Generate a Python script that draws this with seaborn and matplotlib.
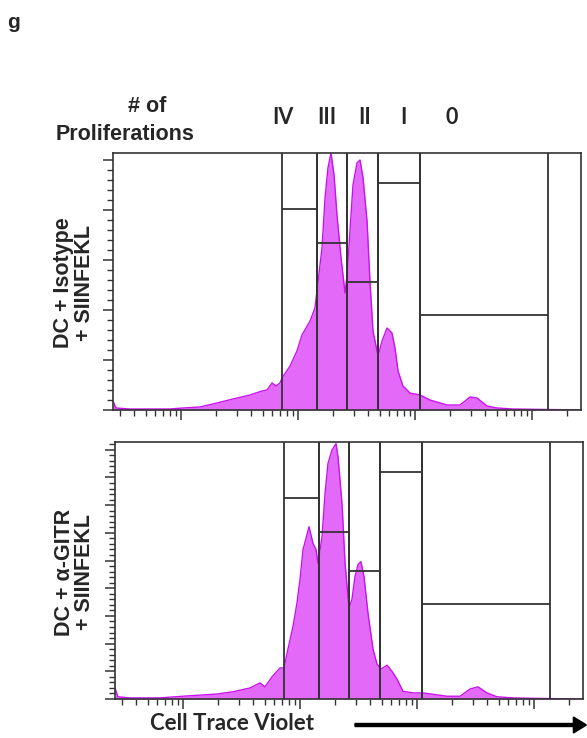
import numpy as np
import matplotlib
matplotlib.use("Agg")
import matplotlib.pyplot as plt
import seaborn as sns
from matplotlib.ticker import MultipleLocator, LogLocator, NullFormatter

sns.set_style("ticks")
plt.rcParams['font.family'] = ['Liberation Sans', 'DejaVu Sans']

# ---------------- data ----------------
# Panel 1: DC + Isotype + SIINFEKL  (log10 Cell Trace Violet, counts)
iso_log = [1.419, 1.444, 1.564, 1.735, 1.906, 2.017, 2.162, 2.308, 2.444, 2.590,
           2.692, 2.735, 2.778, 2.812, 2.846, 2.863, 2.932, 2.991, 3.034, 3.103,
           3.145, 3.162, 3.205, 3.231, 3.256, 3.282, 3.308, 3.333, 3.368, 3.402,
           3.419, 3.444, 3.470, 3.504, 3.530, 3.556, 3.590, 3.615, 3.641, 3.684,
           3.718, 3.761, 3.803, 3.829, 3.855, 3.897, 3.957, 4.043, 4.128, 4.274,
           4.385, 4.470, 4.530, 4.615, 4.701, 4.838, 5.128, 5.419]
iso_cnt = [18, 4, 2, 2, 2, 4, 6, 14, 22, 30,
           38, 40, 54, 48, 54, 64, 88, 118, 150, 178,
           204, 238, 324, 424, 484, 514, 470, 390, 304, 234,
           270, 358, 450, 494, 500, 464, 378, 258, 158, 108,
           138, 164, 154, 124, 78, 48, 34, 30, 20, 10,
           10, 26, 24, 8, 4, 2, 1, 0]

# Panel 2: DC + a-GITR + SIINFEKL
gitr_log = [1.419, 1.444, 1.547, 1.803, 2.000, 2.291, 2.427, 2.573, 2.658, 2.701,
            2.761, 2.829, 2.863, 2.897, 2.940, 2.974, 3.000, 3.026, 3.060, 3.077,
            3.111, 3.137, 3.154, 3.188, 3.214, 3.239, 3.274, 3.308, 3.325, 3.359,
            3.385, 3.419, 3.444, 3.470, 3.496, 3.521, 3.547, 3.581, 3.624, 3.658,
            3.692, 3.744, 3.786, 3.829, 3.880, 3.966, 4.051, 4.256, 4.368, 4.453,
            4.521, 4.598, 4.684, 4.821, 5.051, 5.419]
gitr_cnt = [20, 4, 2, 2, 5, 9, 13, 20, 29, 22,
            40, 56, 56, 90, 131, 173, 216, 270, 297, 311,
            281, 270, 245, 293, 371, 425, 450, 461, 437, 353,
            245, 164, 180, 221, 243, 248, 221, 155, 90, 63,
            54, 61, 50, 36, 14, 11, 11, 5, 5, 18,
            22, 11, 4, 2, 1, 0]

# Gates (log10 bounds) and gate levels (fraction of y range)
gate_names = ["IV", "III", "II", "I", "0"]
gate_lo = [2.863, 3.162, 3.419, 3.684, 4.043]
gate_hi = [3.162, 3.419, 3.684, 4.043, 5.137]
gate_level = [0.782, 0.650, 0.500, 0.885, 0.370]

panel_labels = [("DC + Isotype", "+ SIINFEKL"), ("DC + \u03b1-GITR", "+ SIINFEKL")]
panel_ymax = [514, 464]
panel_major = [100, 50]
panel_minor = [20, 10]

x_lo, x_hi = 10 ** 1.419, 2 ** 18

# ---------------- figure ----------------
W, H = 587, 738
fig = plt.figure(figsize=(W / 100, H / 100), dpi=100)

def fx(px):
    return px / W

def fy(py):
    return 1 - py / H

axes_px = [(113, 153, 581, 410), (115, 442, 583, 699)]
fill_c = '#E36AF8'
edge_c = '#C812EE'
dark = '#333333'

data = [(iso_log, iso_cnt), (gitr_log, gitr_cnt)]
for i, (l, t, r, b) in enumerate(axes_px):
    ax = fig.add_axes([fx(l), fy(b), fx(r) - fx(l), fy(t) - fy(b)])
    xs = 10 ** np.array(data[i][0])
    ys = np.array(data[i][1], dtype=float)
    ax.fill_between(xs, 0, ys, color=fill_c, lw=0, zorder=1)
    sns.lineplot(x=xs, y=ys, ax=ax, color=edge_c, lw=1.0, zorder=2, sort=False)
    ax.set_xscale('log')
    ax.set_xlim(x_lo, x_hi)
    ymax = panel_ymax[i]
    ax.set_ylim(0, ymax)
    # gates
    for lo, hi, lev in zip(gate_lo, gate_hi, gate_level):
        ax.axvline(10 ** lo, color=dark, lw=1.3, zorder=3)
        ax.axvline(10 ** hi, color=dark, lw=1.3, zorder=3)
        ax.hlines(lev * ymax, 10 ** lo, 10 ** hi, color=dark, lw=1.3, zorder=3)
    # ticks
    ax.xaxis.set_major_locator(LogLocator(base=10, numticks=10))
    ax.xaxis.set_minor_locator(LogLocator(base=10, subs=np.arange(2, 10), numticks=20))
    ax.xaxis.set_major_formatter(NullFormatter())
    ax.xaxis.set_minor_formatter(NullFormatter())
    ax.yaxis.set_major_locator(MultipleLocator(panel_major[i]))
    ax.yaxis.set_minor_locator(MultipleLocator(panel_minor[i]))
    ax.yaxis.set_major_formatter(NullFormatter())
    ax.tick_params(axis='both', which='major', length=7, width=1.1, color=dark,
                   direction='out', top=False, right=False)
    ax.tick_params(axis='both', which='minor', length=4, width=1.0, color=dark,
                   direction='out', top=False, right=False)
    for s in ax.spines.values():
        s.set_visible(True)
        s.set_color(dark)
        s.set_linewidth(1.2)
    ax.set_xlabel('')
    ax.set_ylabel('')

# ---------------- texts ----------------
fig.text(fx(14), fy(22), "g", fontsize=15, fontweight='bold', ha='center', va='center')
fig.text(fx(147), fy(107), "# of", fontsize=15.5, fontweight='bold', ha='center', va='center')
fig.text(fx(125), fy(134), "Proliferations", fontsize=15.5, fontweight='bold', ha='center', va='center')

roman_x = [283, 327, 365, 403, 452]
for name, px in zip(gate_names, roman_x):
    fig.text(fx(px), fy(118), name, fontsize=15.5, fontweight='bold', ha='center', va='center',
             family=['Lato', 'DejaVu Sans'])

ylab_y = [283, 572]
for (l1, l2), py in zip(panel_labels, ylab_y):
    fig.text(fx(64), fy(py), l1, fontsize=15.5, fontweight='bold', ha='center', va='center', rotation=90)
    fig.text(fx(85), fy(py), l2, fontsize=15.5, fontweight='bold', ha='center', va='center', rotation=90)

fig.text(fx(232), fy(723), "Cell Trace Violet", fontsize=16, fontweight='bold', ha='center', va='center',
         family=['Lato', 'DejaVu Sans'])
fig.patches.append(matplotlib.patches.FancyArrow(
    fx(355), fy(725), fx(587) - fx(355) - 0.001, 0, width=3 / H, head_width=16 / H,
    head_length=13 / W, length_includes_head=True, color='black', transform=fig.transFigure,
    figure=fig))

fig.savefig("out.png", dpi=100)
